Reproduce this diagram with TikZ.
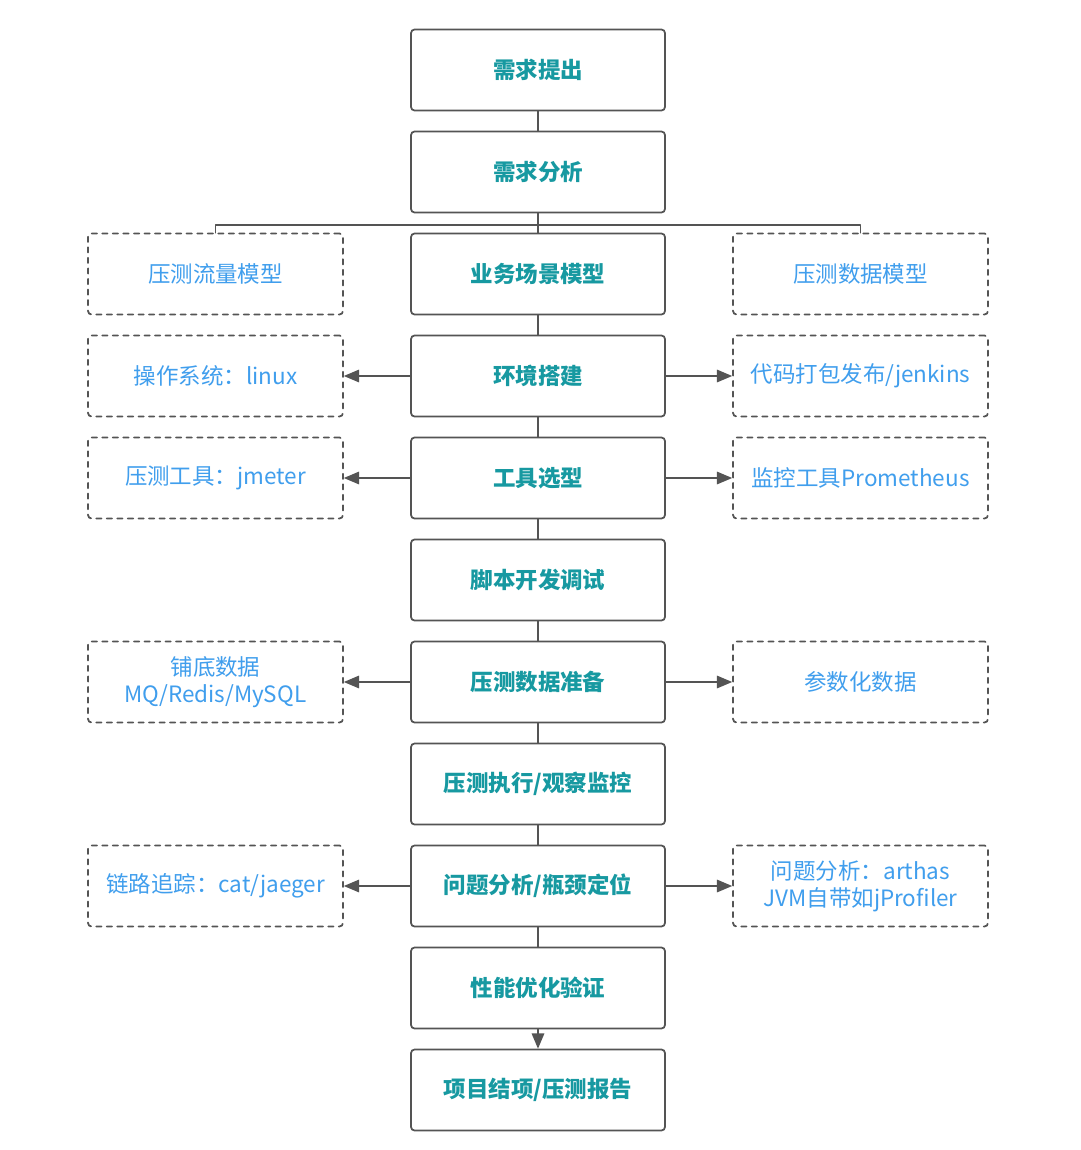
\documentclass[tikz,border=0pt]{standalone}
\usepackage{fontspec}
\usepackage{tikz}
\usetikzlibrary{arrows}
\setmainfont{Noto Sans CJK SC}
\definecolor{qqtealc}{rgb}{0.09,0.6,0.63}
\definecolor{qqblueff}{rgb}{0.25,0.62,0.93}
\definecolor{qqgrey}{rgb}{0.33,0.33,0.33}

\begin{document}
\begin{tikzpicture}[line cap=round,line join=round,>=triangle 45,x=0.02cm,y=-0.02cm,
  mainbox/.style={draw=qqgrey,line width=1pt,rounded corners=2pt,minimum width=5.08cm,minimum height=1.62cm,
    text=qqtealc,font=\fontsize{12.8}{15}\selectfont\bfseries,align=center},
  sidebox/.style={draw=qqgrey,line width=1pt,dashed,rounded corners=2pt,minimum width=5.1cm,minimum height=1.62cm,
    text=qqblueff,font=\fontsize{12.8}{15.5}\selectfont,align=center,inner sep=1pt},
  link/.style={color=qqgrey,line width=1pt}]
      \useasboundingbox (0,0) rectangle (1080,1150);
      \fill[white] (0,0) rectangle (1080,1150);
      % main column
      \node[mainbox] (tiChu) at (538,70) {需求提出};
      \node[mainbox] (fenXi) at (538,172) {需求分析};
      \node[mainbox] (yeWu) at (538,274) {业务场景模型};
      \node[mainbox] (huanJing) at (538,376) {环境搭建};
      \node[mainbox] (gongJu) at (538,478) {工具选型};
      \node[mainbox] (jiaoBen) at (538,580) {脚本开发调试};
      \node[mainbox] (shuJu) at (538,682) {压测数据准备};
      \node[mainbox] (zhiXing) at (538,784) {压测执行/观察监控};
      \node[mainbox] (wenTi) at (538,886) {问题分析/瓶颈定位};
      \node[mainbox] (youHua) at (538,988) {性能优化验证};
      \node[mainbox] (baoGao) at (538,1090) {项目结项/压测报告};
      % side boxes
      \node[sidebox] (liuLiang) at (215.5,274) {压测流量模型};
      \node[sidebox] (shuJuMo) at (860.5,274) {压测数据模型};
      \node[sidebox] (linux) at (215.5,376) {操作系统：linux};
      \node[sidebox] (jenkins) at (860.5,376) {代码打包发布/jenkins};
      \node[sidebox] (jmeter) at (215.5,478) {压测工具：jmeter};
      \node[sidebox] (prom) at (860.5,478) {监控工具Prometheus};
      \node[sidebox] (puDi) at (215.5,682) {铺底数据\\MQ/Redis/MySQL};
      \node[sidebox] (canShu) at (860.5,682) {参数化数据};
      \node[sidebox] (lianLu) at (215.5,886) {链路追踪：cat/jaeger};
      \node[sidebox] (arthas) at (860.5,886) {问题分析：arthas\\JVM自带如jProfiler};
      % vertical links
      \foreach \a/\b in {tiChu/fenXi,fenXi/yeWu,yeWu/huanJing,huanJing/gongJu,gongJu/jiaoBen,
        jiaoBen/shuJu,shuJu/zhiXing,zhiXing/wenTi,wenTi/youHua}
      \draw[link] (\a.south) -- (\b.north);
      \draw[link,->] (youHua.south) -- (baoGao.north);
      % branch after analysis
      \coordinate (fenCha) at (538,225);
      \draw[link] (liuLiang.north) |- (fenCha) -| (shuJuMo.north);
      % side arrows
      \foreach \m/\l/\r in {huanJing/linux/jenkins,gongJu/jmeter/prom,shuJu/puDi/canShu,wenTi/lianLu/arthas}
      {
      \draw[link,->] (\m.west) -- (\l.east);
      \draw[link,->] (\m.east) -- (\r.west);
      }
\end{tikzpicture}
\end{document}
